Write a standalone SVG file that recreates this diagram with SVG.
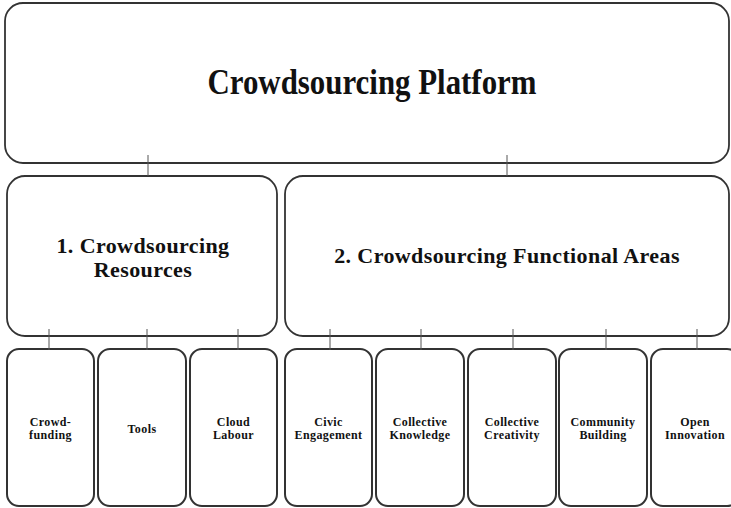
<svg xmlns="http://www.w3.org/2000/svg" width="731" height="508" viewBox="0 0 731 508">
<style>
.box{fill:#fff;stroke:#333;stroke-width:1.8}
.small{fill:#fff;stroke:#333;stroke-width:2}
.conn{stroke:#555;stroke-width:1;fill:none}
text{font-family:"Liberation Serif","Times New Roman",serif;font-weight:bold;fill:#111;text-anchor:middle}
.t1{font-size:35px}
.t2{font-size:22px;letter-spacing:0.4px}
.t3{font-size:12px;letter-spacing:0.4px}
</style>
<rect width="731" height="508" fill="#fff"/>
<g id="platform">
<rect class="box" x="5" y="3" width="724" height="160" rx="18"/>
<text class="t1" x="372" y="94" textLength="329" lengthAdjust="spacingAndGlyphs">Crowdsourcing Platform</text>
</g>
<g id="resources">
<rect class="box" x="7" y="176" width="270" height="160" rx="18"/>
<text class="t2" x="143" y="253">1. Crowdsourcing</text>
<text class="t2" x="143" y="277">Resources</text>
</g>
<g id="functional">
<rect class="box" x="285" y="176" width="444" height="160" rx="18"/>
<text class="t2" x="507" y="263">2. Crowdsourcing Functional Areas</text>
</g>
<g id="crowdfunding">
<rect class="small" x="7" y="349" width="87" height="157" rx="12"/>
<text class="t3" x="50.5" y="426">Crowd-</text>
<text class="t3" x="50.5" y="439">funding</text>
</g>
<g id="tools">
<rect class="small" x="98" y="349" width="88" height="157" rx="12"/>
<text class="t3" x="142" y="433">Tools</text>
</g>
<g id="cloud-labour">
<rect class="small" x="190" y="349" width="87" height="157" rx="12"/>
<text class="t3" x="233.5" y="426">Cloud</text>
<text class="t3" x="233.5" y="439">Labour</text>
</g>
<g id="civic">
<rect class="small" x="285" y="349" width="87" height="157" rx="12"/>
<text class="t3" x="328.5" y="426">Civic</text>
<text class="t3" x="328.5" y="439">Engagement</text>
</g>
<g id="knowledge">
<rect class="small" x="376" y="349" width="88" height="157" rx="12"/>
<text class="t3" x="420" y="426">Collective</text>
<text class="t3" x="420" y="439">Knowledge</text>
</g>
<g id="creativity">
<rect class="small" x="468" y="349" width="88" height="157" rx="12"/>
<text class="t3" x="512" y="426">Collective</text>
<text class="t3" x="512" y="439">Creativity</text>
</g>
<g id="community">
<rect class="small" x="559" y="349" width="88" height="157" rx="12"/>
<text class="t3" x="603" y="426">Community</text>
<text class="t3" x="603" y="439">Building</text>
</g>
<g id="innovation">
<rect class="small" x="651" y="349" width="88" height="157" rx="12"/>
<text class="t3" x="695" y="426">Open</text>
<text class="t3" x="695" y="439">Innovation</text>
</g>
<g id="connectors">
<line class="conn" x1="148" y1="155" x2="148" y2="176"/>
<line class="conn" x1="507" y1="155" x2="507" y2="176"/>
<line class="conn" x1="49" y1="329" x2="49" y2="350"/>
<line class="conn" x1="147" y1="329" x2="147" y2="350"/>
<line class="conn" x1="238" y1="329" x2="238" y2="350"/>
<line class="conn" x1="330" y1="329" x2="330" y2="350"/>
<line class="conn" x1="421" y1="329" x2="421" y2="350"/>
<line class="conn" x1="513" y1="329" x2="513" y2="350"/>
<line class="conn" x1="606" y1="329" x2="606" y2="350"/>
<line class="conn" x1="697" y1="329" x2="697" y2="350"/>
</g>
</svg>
